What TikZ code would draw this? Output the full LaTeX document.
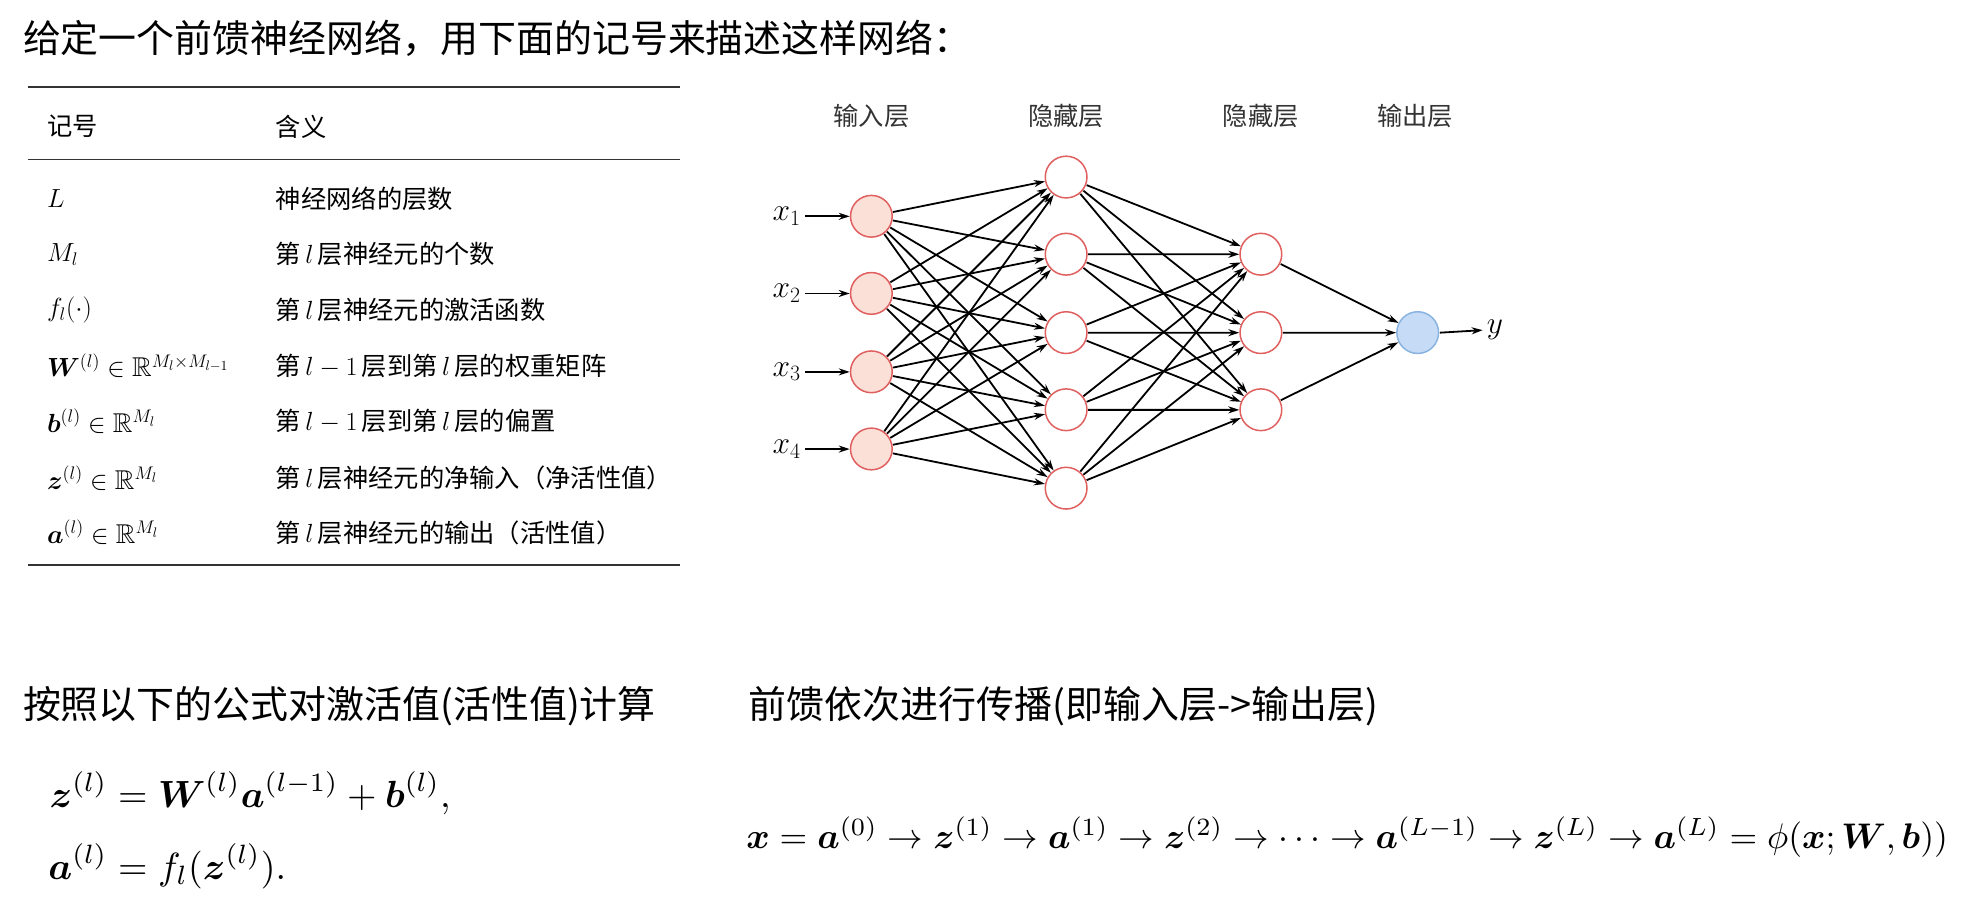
\documentclass[tikz,border=0pt]{standalone}
\usepackage{amsmath,amssymb,bm}
\usepackage{fontspec}
\newfontfamily\cjk{Noto Sans CJK SC}
\usetikzlibrary{arrows.meta}
\definecolor{inred}{HTML}{E06060}
\definecolor{infill}{HTML}{FBE0D8}
\definecolor{outb}{HTML}{8AB4E0}
\definecolor{outfill}{HTML}{C6DBF6}
\begin{document}
\begin{tikzpicture}[x=1pt,y=-1pt,scale=1.2647,every node/.append style={transform shape},
  inn/.style={circle,draw=inred,fill=infill,line width=1.5pt,minimum size=33pt,inner sep=0pt},
  hid/.style={circle,draw=inred,fill=white,line width=1.5pt,minimum size=33pt,inner sep=0pt},
  outn/.style={circle,draw=outb,fill=outfill,line width=1.5pt,minimum size=33pt,inner sep=0pt},
  edge/.style={-{Stealth[length=11pt,width=7pt]},line width=1.8pt},
  lbl/.style={font=\cjk\fontsize{20}{22}\selectfont,text=black!80},
  tb/.style={anchor=west,font=\fontsize{20}{22}\selectfont\cjk,inner sep=0pt},
  tm/.style={anchor=west,font=\fontsize{21.5}{22}\selectfont,inner sep=0pt},
  ttl/.style={anchor=west,font=\cjk\fontsize{30}{32}\selectfont,inner sep=0pt}]
\useasboundingbox (0,0) rectangle (1568,726);
\node[ttl] (t1) at (18,30) {给定一个前馈神经网络，用下面的记号来描述这样网络：};
\node[ttl] (t2) at (18,558) {按照以下的公式对激活值(活性值)计算};
\node[ttl] (t3) at (592,558) {前馈依次进行传播(即输入层->输出层)};
% table
\draw[line width=2pt,black!80] (22,69) -- (538,69);
\draw[line width=1.3pt,black!80] (22,126) -- (538,126);
\draw[line width=2pt,black!80] (22,447) -- (538,447);
\node[tb] (h1) at (37,100) {记号};
\node[tb] (h2) at (218,100) {含义};
\node[tm] (s1) at (37,157) {$L$};
\node[tm] (s2) at (37,201) {$M_l$};
\node[tm] (s3) at (37,245) {$f_l(\cdot)$};
\node[tm] (s4) at (37,289) {$\bm{W}^{(l)}\in\mathbb{R}^{M_l\times M_{l-1}}$};
\node[tm] (s5) at (37,333) {$\bm{b}^{(l)}\in\mathbb{R}^{M_l}$};
\node[tm] (s6) at (37,378) {$\bm{z}^{(l)}\in\mathbb{R}^{M_l}$};
\node[tm] (s7) at (37,421) {$\bm{a}^{(l)}\in\mathbb{R}^{M_l}$};
\node[tb] (m1) at (218,157) {神经网络的层数};
\node[tb] (m2) at (218,201) {第\,$l$\,层神经元的个数};
\node[tb] (m3) at (218,245) {第\,$l$\,层神经元的激活函数};
\node[tb] (m4) at (218,289) {第\,$l-1$\,层到第\,$l$\,层的权重矩阵};
\node[tb] (m5) at (218,333) {第\,$l-1$\,层到第\,$l$\,层的偏置};
\node[tb] (m6) at (218,378) {第\,$l$\,层神经元的净输入（净活性值）};
\node[tb] (m7) at (218,421) {第\,$l$\,层神经元的输出（活性值）};
% network
\node[lbl] (L1) at (689,92) {输入层};
\node[lbl] (L2) at (843,92) {隐藏层};
\node[lbl] (L3) at (997,92) {隐藏层};
\node[lbl] (L4) at (1119,92) {输出层};
\foreach \i/\y in {1/171,2/232,3/294,4/355}{
  \node[inn] (i\i) at (689,\y) {};
  \node[font=\fontsize{25}{26}\selectfont] (x\i) at (622,\y) {$x_\i$};
  \draw[edge] (x\i.east) -- (i\i.west);
}
\foreach \i/\y in {1/140,2/201,3/263,4/324,5/386}{\node[hid] (a\i) at (843,\y) {};}
\foreach \i/\y in {1/201,2/263,3/324}{\node[hid] (b\i) at (997,\y) {};}
\node[outn] (o) at (1121,263) {};
\node[font=\fontsize{25}{26}\selectfont] (yy) at (1182,261) {$y$};
\draw[edge] (o.east) -- (yy.west);
\foreach \i in {1,...,4}{\foreach \j in {1,...,5}{\draw[edge] (i\i) -- (a\j);}}
\foreach \i in {1,...,5}{\foreach \j in {1,...,3}{\draw[edge] (a\i) -- (b\j);}}
\foreach \j in {1,...,3}{\draw[edge] (b\j) -- (o);}
% equations
\node[anchor=north west,inner sep=0pt] (e1) at (38,610) {\resizebox{318pt}{!}{$\begin{aligned}\bm{z}^{(l)}&=\bm{W}^{(l)}\bm{a}^{(l-1)}+\bm{b}^{(l)},\\[2pt] \bm{a}^{(l)}&=f_l(\bm{z}^{(l)}).\end{aligned}$}};
\node[anchor=west,inner sep=0pt] (e2) at (590,662) {\resizebox{950pt}{!}{$\bm{x}=\bm{a}^{(0)}\rightarrow\bm{z}^{(1)}\rightarrow\bm{a}^{(1)}\rightarrow\bm{z}^{(2)}\rightarrow\cdots\rightarrow\bm{a}^{(L-1)}\rightarrow\bm{z}^{(L)}\rightarrow\bm{a}^{(L)}=\phi(\bm{x};\bm{W},\bm{b}))$}};
\end{tikzpicture}
\end{document}
